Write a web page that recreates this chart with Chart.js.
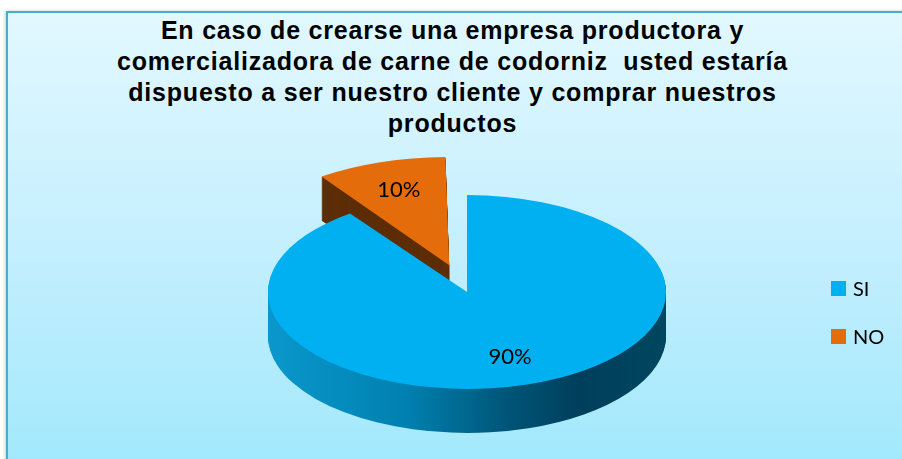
<!DOCTYPE html>
<html lang="es">
<head>
<meta charset="utf-8">
<script src="https://cdn.jsdelivr.net/npm/chart.js@4.4.1/dist/chart.umd.min.js"></script>
<style>
  html, body { margin: 0; padding: 0; background: #fff; }
  #wrap { position: relative; width: 902px; height: 459px; overflow: hidden; }
  #frame {
    position: absolute; left: 6px; top: 11px; width: 920px; height: 470px;
    border: 2px solid #4bacc6;
    background: linear-gradient(#e2f8ff, #c4effe 50%, #9fe8fc);
    box-shadow: -1px 0 3px rgba(0, 0, 0, 0.2);
  }
  #title {
    position: absolute; left: 0; top: 15px; width: 905px;
    text-align: center; white-space: pre; color: #000;
    font: bold 25px 'Liberation Sans', Arial, sans-serif;
    line-height: 31px; letter-spacing: 0.8px;
  }
  #chart { position: absolute; left: 0; top: 0; }
  #legend { position: absolute; left: 831px; top: 279px; font: 20px Lato, sans-serif; color: #000; }
  .item { display: flex; align-items: center; height: 18px; margin-bottom: 30px; }
  .swatch { width: 15px; height: 15px; margin-right: 7px; }
</style>
</head>
<body>
<div id="wrap">
  <div id="frame"></div>
  <div id="title"></div>
  <canvas id="chart" width="902" height="459"></canvas>
  <div id="legend"></div>
</div>
<script>
const titleLines = [
  'En caso de crearse una empresa productora y',
  'comercializadora de carne de codorniz  usted estaría',
  'dispuesto a ser nuestro cliente y comprar nuestros',
  'productos'
];
const categories = ['SI', 'NO'];
const values = [90, 10];
const topColors = ['#00b0f0', '#e46c0a'];

// 3D look: squash the pie vertically and stack darker copies under it
const tilt = 0.487;
const depth = 44;
const labelRadius = 0.7;

function squash(ctx, arc, dy) {
  ctx.translate(arc.x, arc.y + dy);
  ctx.scale(1, tilt);
  ctx.translate(-arc.x, -arc.y);
}

const pie3d = {
  id: 'pie3d',
  beforeDatasetsDraw(chart) {
    const ctx = chart.ctx;
    const arcs = chart.getDatasetMeta(0).data;
    const a0 = arcs[0];
    const side = ctx.createLinearGradient(a0.x - a0.outerRadius, 0, a0.x + a0.outerRadius, 0);
    side.addColorStop(0, '#0a98cc');
    side.addColorStop(0.35, '#0080b0');
    side.addColorStop(0.6, '#005578');
    side.addColorStop(0.78, '#003f5c');
    side.addColorStop(1, '#00465f');
    const sideColors = [side, '#5c2d06'];

    // back slice walls first
    for (let i = arcs.length - 1; i >= 0; i--) {
      const arc = arcs[i];
      const saved = arc.options;
      arc.options = Object.assign({}, saved, { backgroundColor: sideColors[i] });
      for (let d = depth; d > 0; d--) {
        ctx.save();
        squash(ctx, arc, d);
        arc.draw(ctx);
        ctx.restore();
      }
      arc.options = saved;
    }
    ctx.save();
    squash(ctx, a0, 0);
  },
  afterDatasetsDraw(chart) {
    const ctx = chart.ctx;
    ctx.restore();

    const arcs = chart.getDatasetMeta(0).data;
    const total = values.reduce((s, v) => s + v, 0);
    ctx.save();
    ctx.font = '22px Lato, sans-serif';
    ctx.fillStyle = '#000';
    ctx.textAlign = 'center';
    ctx.textBaseline = 'middle';
    arcs.forEach((arc, i) => {
      const mid = (arc.startAngle + arc.endAngle) / 2;
      const span = arc.endAngle - arc.startAngle;
      const shift = (arc.options.offset || 0) / 4 * (2 - Math.sin(Math.min(Math.PI, span)));
      const r = shift + arc.outerRadius * labelRadius;
      const x = arc.x + Math.cos(mid) * r;
      const y = arc.y + Math.sin(mid) * r * tilt;
      ctx.fillText(Math.round(values[i] / total * 100) + '%', x, y);
    });
    ctx.restore();
  }
};

document.getElementById('title').textContent = titleLines.join('\n');

const legendEl = document.getElementById('legend');
categories.forEach((name, i) => {
  const item = document.createElement('div');
  item.className = 'item';
  const sw = document.createElement('span');
  sw.className = 'swatch';
  sw.style.background = topColors[i];
  const txt = document.createElement('span');
  txt.textContent = name;
  item.appendChild(sw);
  item.appendChild(txt);
  legendEl.appendChild(item);
});

const pieCtx = document.getElementById('chart').getContext('2d');
new Chart(pieCtx, {
  type: 'pie',
  data: {
    labels: categories,
    datasets: [{
      data: values,
      backgroundColor: topColors,
      borderWidth: 0,
      offset: [0, 230],
      clip: false
    }]
  },
  options: {
    responsive: false,
    animation: false,
    events: [],
    radius: 199,
    layout: { padding: { left: 32, right: 0, top: 125, bottom: 0 } },
    plugins: {
      legend: { display: false },
      title: { display: false },
      tooltip: { enabled: false }
    }
  },
  plugins: [pie3d]
});
</script>
</body>
</html>
